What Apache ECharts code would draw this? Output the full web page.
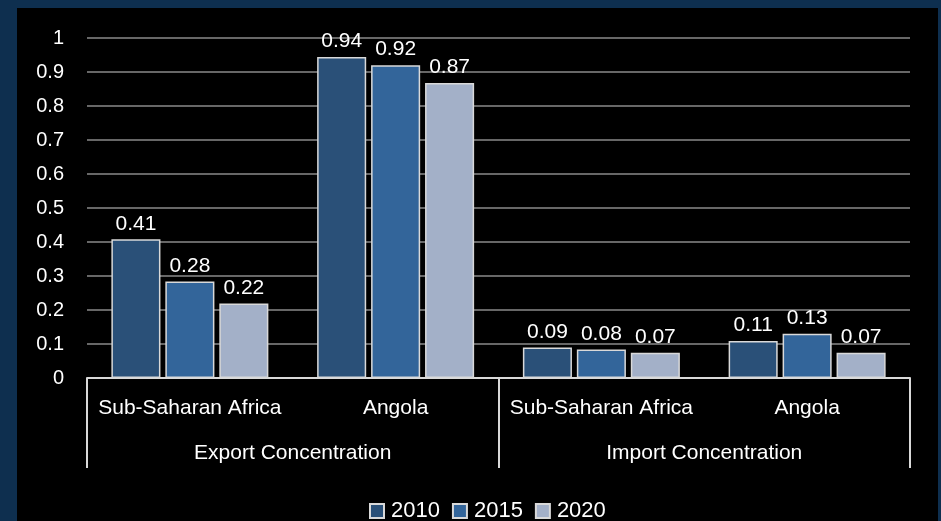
<!DOCTYPE html>
<html>
<head>
<meta charset="utf-8">
<script src="https://cdn.jsdelivr.net/npm/echarts@6/dist/echarts.min.js"></script>
<style>
html,body{margin:0;padding:0;background:#0e2f4f;}
#chart{width:941px;height:521px;}
</style>
</head>
<body>
<div id="chart"></div>
<script>
const categories = ['Sub-Saharan Africa', 'Angola', 'Sub-Saharan Africa', 'Angola'];
const groups = ['Export Concentration', 'Import Concentration'];
const years = ['2010', '2015', '2020'];
const values2010 = [0.408, 0.944, 0.09, 0.109];
const values2015 = [0.284, 0.92, 0.084, 0.13];
const values2020 = [0.219, 0.868, 0.074, 0.074];
const yTicks = [0, 0.1, 0.2, 0.3, 0.4, 0.5, 0.6, 0.7, 0.8, 0.9, 1];
const colors = ['#2a5078', '#33659a', '#a3b0c8'];

const FONT = "'Liberation Sans', Arial, sans-serif";
const chart = echarts.init(document.getElementById('chart'), null, {renderer: 'canvas'});

const seriesData = [values2010, values2015, values2020];
const option = {
  backgroundColor: '#0e2f4f',
  animation: false,
  textStyle: {fontFamily: FONT},
  graphic: [{
    type: 'rect', z: -10, silent: true,
    shape: {x: 17, y: 8, width: 921, height: 513},
    style: {fill: '#000000'}
  }],
  grid: {left: 87, right: 31, top: 38, bottom: 143, containLabel: false},
  legend: {
    data: years,
    left: 364, top: 495,
    icon: 'rect', itemWidth: 14, itemHeight: 14, itemGap: 12,
    textStyle: {color: '#ffffff', fontSize: 22, fontFamily: FONT, padding: [0, 0, 0, 2]}
  },
  xAxis: [{
    type: 'category',
    data: categories,
    position: 'bottom',
    axisLine: {show: true, lineStyle: {color: '#d9d9d9', width: 2}},
    axisTick: {show: false},
    axisLabel: {color: '#ffffff', fontSize: 21, fontFamily: FONT, margin: 20, interval: 0}
  }, {
    type: 'category',
    data: groups,
    position: 'bottom',
    axisLine: {show: false},
    axisTick: {show: true, length: 90, lineStyle: {color: '#d9d9d9', width: 2}},
    axisLabel: {color: '#ffffff', fontSize: 21, fontFamily: FONT, margin: 65, interval: 0}
  }],
  yAxis: {
    type: 'value',
    min: 0, max: 1, interval: 0.1,
    axisLine: {show: false},
    axisTick: {show: false},
    splitLine: {lineStyle: {color: '#8a8a8a', width: 1.5}},
    axisLabel: {
      color: '#ffffff', fontSize: 20, fontFamily: FONT, margin: 23,
      formatter: v => {
        const r = Math.round(v * 10) / 10;
        return yTicks.includes(r) ? String(r) : '';
      }
    }
  },
  series: years.map((y, i) => ({
    name: y,
    type: 'bar',
    xAxisIndex: 0,
    data: seriesData[i],
    barGap: '10%',
    barCategoryGap: '23.7%',
    itemStyle: {color: colors[i], borderColor: '#d9d9d9', borderWidth: 1.5},
    label: {
      show: true, position: 'top', distance: 5,
      color: '#ffffff', fontSize: 21, fontFamily: FONT,
      formatter: p => p.value.toFixed(2)
    }
  }))
};
chart.setOption(option);
</script>
</body>
</html>
